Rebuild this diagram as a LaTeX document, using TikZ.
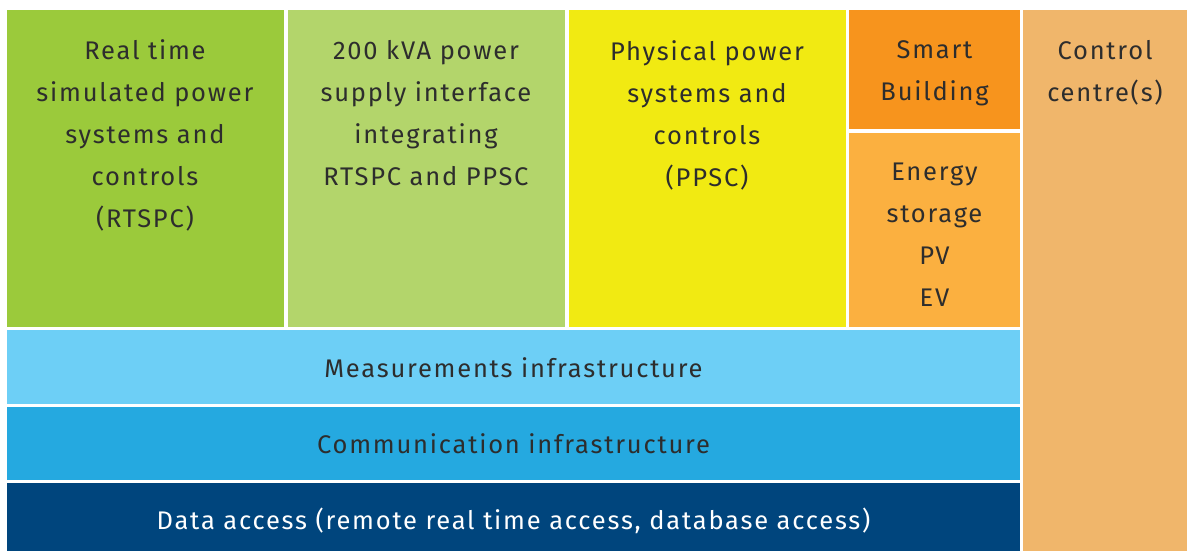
\documentclass[tikz,border=0pt]{standalone}
\usepackage{fontspec}
\setmainfont{Fira Sans}[LetterSpace=7]
\definecolor{rtgreen}{HTML}{9BCA3B}
\definecolor{ifgreen}{HTML}{B3D56B}
\definecolor{ppyellow}{HTML}{F1EA12}
\definecolor{sborange}{HTML}{F7941D}
\definecolor{esorange}{HTML}{FBB040}
\definecolor{ccorange}{HTML}{F0B66B}
\definecolor{measblue}{HTML}{6DCFF6}
\definecolor{commblue}{HTML}{25A9E0}
\definecolor{datablue}{HTML}{00457D}
\definecolor{textgray}{HTML}{2D2D2D}
\begin{document}
\begin{tikzpicture}[x=1pt,y=-1pt,
  lbl/.style={anchor=north, inner sep=0pt, align=center, text=textgray,
    font=\fontsize{25.5}{42}\selectfont},
  barlbl/.style={anchor=base, inner sep=0pt, text=textgray,
    font=\fontsize{25.5}{42}\selectfont}]
\useasboundingbox[fill=white] (0,0) rectangle (1187,551);

% upper row of component blocks
\fill[rtgreen]  (7,10)     rectangle (283.5,327);
\fill[ifgreen]  (287.5,10) rectangle (565,327);
\fill[ppyellow] (568.5,10) rectangle (846,327);
\fill[sborange] (849,10)   rectangle (1020,129);
\fill[esorange] (849,132.5) rectangle (1020,327);

% control centre column
\fill[ccorange] (1022.5,10) rectangle (1187,551);

% infrastructure layers
\fill[measblue] (7,330)   rectangle (1020,403.5);
\fill[commblue] (7,406.5) rectangle (1020,479.5);
\fill[datablue] (7,482.5) rectangle (1020,551);

% block texts
\node[lbl] (rtspc) at (145,39) {Real time\\simulated power\\systems and\\controls\\(RTSPC)};
\node[lbl] (iface) at (426,40) {200 kVA power\\supply interface\\integrating\\RTSPC and PPSC};
\node[lbl] (ppsc)  at (707,40) {Physical power\\systems and\\controls\\(PPSC)};
\node[lbl] (smart) at (934.5,40.5) {Smart\\Building};
\node[lbl] (store) at (934.5,163) {Energy\\storage\\PV\\EV};
\node[lbl] (ctrl)  at (1105,40) {Control\\centre(s)};

\node[barlbl] (meas) at (513.5,377) {Measurements infrastructure};
\node[barlbl] (comm) at (513.5,453) {Communication infrastructure};
\node[barlbl, text=white] (data) at (513.5,529) {Data access (remote real time access, database access)};
\end{tikzpicture}
\end{document}
